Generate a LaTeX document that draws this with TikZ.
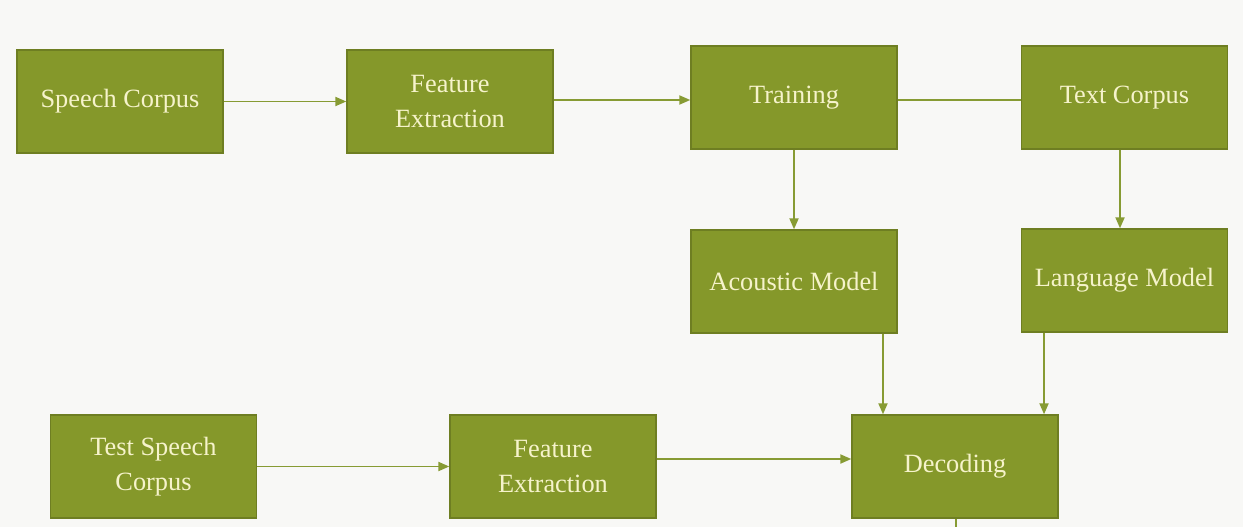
\documentclass[tikz,border=0pt]{standalone}
\usepackage{fontspec}
\setmainfont{Liberation Serif}
\usepackage{xcolor}
\usetikzlibrary{arrows.meta}
\definecolor{olive}{HTML}{85982A}
\definecolor{olivedark}{HTML}{6E7E22}
\definecolor{olivearrow}{HTML}{879B33}
\definecolor{paletext}{HTML}{F6F3CB}
\definecolor{paper}{HTML}{F8F8F6}
\tikzset{
  block/.style={draw=olivedark,line width=0.8pt,fill=olive,text=paletext,
    minimum width=4.12cm,minimum height=2.06cm,align=center,
    font=\fontsize{15}{20}\selectfont},
  link/.style={draw=olivearrow,line width=1.1pt},
  arr/.style={link,-{Triangle[length=2.2mm,width=1.8mm]}}
}
\begin{document}
\begin{tikzpicture}[x=0.02cm,y=-0.02cm]
\fill[paper] (0,0) rectangle (1243,527);
\useasboundingbox (0,0) rectangle (1243,527);

\node[block] (speech) at (120,101.5) {Speech Corpus};
\node[block] (feat) at (450,101.5) {Feature\\Extraction};
\node[block] (train) at (794,97.5) {Training};
\node[block] (text) at (1124.5,97.5) {Text Corpus};
\node[block] (acoustic) at (794,281.5) {Acoustic Model};
\node[block] (language) at (1124.5,280.5) {Language Model};
\node[block] (test) at (153.5,466.5) {Test Speech\\Corpus};
\node[block] (feattest) at (553,466.5) {Feature\\Extraction};
\node[block] (decode) at (955,466.5) {Decoding};
\coordinate (out) at (956,527);

\draw[arr] (speech.east) -- (feat.west);
\draw[arr] ([yshift=0.03cm]feat.east) -- ([yshift=0.03cm]feat.east -| train.west);
\draw[link] ([yshift=-0.05cm]train.east) -- ([yshift=-0.05cm]text.west);
\draw[arr] (train.south) -- (acoustic.north);
\draw[arr] ([xshift=-0.09cm]text.south) -- ([xshift=-0.09cm]language.north);
\draw[arr] ([xshift=1.78cm]acoustic.south) -- ([xshift=1.78cm]acoustic.south |- decode.north);
\draw[arr] ([xshift=-1.61cm]language.south) -- ([xshift=-1.61cm]language.south |- decode.north);
\draw[arr] (test.east) -- (feattest.west);
\draw[arr] ([yshift=0.15cm]feattest.east) -- ([yshift=0.15cm]feattest.east -| decode.west);
\draw[link] (decode.south -| out) -- (out);
\end{tikzpicture}
\end{document}
